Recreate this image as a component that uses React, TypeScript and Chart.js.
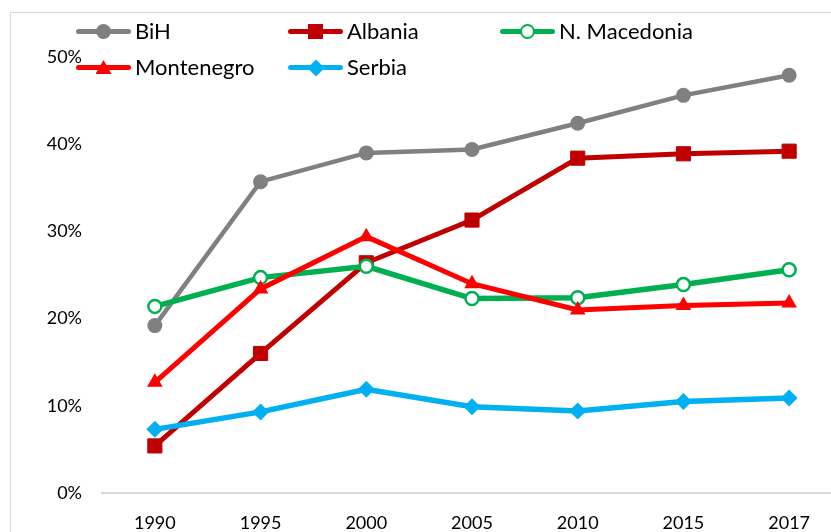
import React, { useEffect, useRef } from 'react';
import { Chart, registerables } from 'chart.js';
Chart.register(...registerables);

const years = ['1990', '1995', '2000', '2005', '2010', '2015', '2017'];
const bih = [19.2, 35.7, 39.0, 39.4, 42.4, 45.6, 47.9];
const albania = [5.4, 16.0, 26.4, 31.3, 38.4, 38.9, 39.2];
const macedonia = [21.4, 24.7, 26.0, 22.3, 22.4, 23.9, 25.6];
const montenegro = [12.7, 23.4, 29.4, 24.0, 21.0, 21.5, 21.8];
const serbia = [7.3, 9.3, 11.9, 9.9, 9.4, 10.5, 10.9];
const yTickValues = [0, 10, 20, 30, 40, 50];

const FONT = 'Lato, "Open Sans", sans-serif';

type Marker = 'circle' | 'rect' | 'open' | 'triangle' | 'diamond';

function MarkerShape({ kind, color }: { kind: Marker; color: string }) {
  const base: React.CSSProperties = { position: 'absolute', boxSizing: 'border-box' };
  if (kind === 'circle')
    return <div style={{ ...base, left: 20, top: 8, width: 15, height: 15, borderRadius: '50%', background: color }} />;
  if (kind === 'rect')
    return <div style={{ ...base, left: 20, top: 8, width: 15, height: 15, background: color }} />;
  if (kind === 'open')
    return <div style={{ ...base, left: 20, top: 8, width: 15, height: 15, borderRadius: '50%', background: '#fff', border: `2.5px solid ${color}` }} />;
  if (kind === 'triangle')
    return <div style={{ ...base, left: 19.5, top: 8, width: 16, height: 14, background: color, clipPath: 'polygon(50% 0, 100% 100%, 0 100%)' }} />;
  return <div style={{ ...base, left: 21.5, top: 9.5, width: 12, height: 12, background: color, transform: 'rotate(45deg)' }} />;
}

function LegendItem({ x, y, label, color, kind }: { x: number; y: number; label: string; color: string; kind: Marker }) {
  return (
    <div style={{ position: 'absolute', left: x, top: y - 15, height: 30, display: 'flex', alignItems: 'center' }}>
      <div style={{ position: 'relative', width: 55, height: 30 }}>
        <div style={{ position: 'absolute', left: 0, right: 0, top: 13, height: 5, background: color, borderRadius: 3 }} />
        <MarkerShape kind={kind} color={color} />
      </div>
      <span style={{ marginLeft: 4, font: `22px ${FONT}`, color: '#000', whiteSpace: 'nowrap', lineHeight: '30px' }}>{label}</span>
    </div>
  );
}

export default function App() {
  const ref = useRef<HTMLCanvasElement | null>(null);
  useEffect(() => {
    if (!ref.current) return;
    const chart = new Chart(ref.current, {
      type: 'line',
      data: {
        labels: years,
        datasets: [
          {
            label: 'BiH', data: bih, borderColor: '#808080', backgroundColor: '#808080', borderWidth: 4.5,
            pointStyle: 'circle', pointRadius: 7.5, pointBorderWidth: 0, pointBackgroundColor: '#808080', order: 5,
          },
          {
            label: 'Albania', data: albania, borderColor: '#C00000', backgroundColor: '#C00000', borderWidth: 5,
            pointStyle: 'rect', pointRadius: 10, pointBorderWidth: 1, pointBorderColor: '#C00000', pointBackgroundColor: '#C00000', order: 4,
          },
          {
            label: 'N. Macedonia', data: macedonia, borderColor: '#00B050', backgroundColor: '#fff', borderWidth: 5.5,
            pointStyle: 'circle', pointRadius: 6.5, pointBorderWidth: 2.5, pointBorderColor: '#00B050', pointBackgroundColor: '#fff', order: 3,
          },
          {
            label: 'Montenegro', data: montenegro, borderColor: '#FF0000', backgroundColor: '#FF0000', borderWidth: 5,
            pointStyle: 'triangle', pointRadius: 9, pointBorderWidth: 0, pointBackgroundColor: '#FF0000', order: 2,
          },
          {
            label: 'Serbia', data: serbia, borderColor: '#00B0F0', backgroundColor: '#00B0F0', borderWidth: 5.5,
            pointStyle: 'rectRot', pointRadius: 8.5, pointBorderWidth: 0, pointBackgroundColor: '#00B0F0', order: 1,
          },
        ],
      },
      options: {
        responsive: false,
        animation: false,
        events: [],
        layout: { padding: { left: 0, right: 58, top: 57, bottom: 0 } },
        plugins: { legend: { display: false }, tooltip: { enabled: false } },
        elements: { line: { tension: 0 } },
        scales: {
          x: {
            type: 'category',
            offset: true,
            grid: { display: false, drawTicks: false },
            border: { display: true, color: '#d9d9d9', width: 2 },
            ticks: { color: '#000', font: { family: FONT, size: 18 }, padding: 19, maxRotation: 0, autoSkip: false },
            afterFit: (s: any) => { s.height = 39; },
          },
          y: {
            min: 0,
            max: 50,
            grid: { display: false, drawTicks: false },
            border: { display: false },
            afterBuildTicks: (s: any) => { s.ticks = yTickValues.map((v) => ({ value: v })); },
            ticks: { color: '#000', font: { family: FONT, size: 18 }, padding: 20, callback: (v: any) => `${v}%` },
            afterFit: (s: any) => { s.width = 102; },
          },
        },
      },
    } as any);
    return () => chart.destroy();
  }, []);

  return (
    <div style={{ position: 'fixed', left: 0, top: 0, width: 831, height: 532, overflow: 'hidden', background: '#fff' }}>
      <div style={{ position: 'absolute', left: 10, top: 12, width: 900, height: 600, border: '1px solid #d9d9d9' }} />
      <canvas ref={ref} width={900} height={532} style={{ position: 'absolute', left: 0, top: 0, width: 900, height: 532 }} />
      <LegendItem x={76} y={31} label="BiH" color="#808080" kind="circle" />
      <LegendItem x={288} y={31} label="Albania" color="#C00000" kind="rect" />
      <LegendItem x={500} y={31} label="N. Macedonia" color="#00B050" kind="open" />
      <LegendItem x={76} y={67} label="Montenegro" color="#FF0000" kind="triangle" />
      <LegendItem x={288} y={67} label="Serbia" color="#00B0F0" kind="diamond" />
    </div>
  );
}
